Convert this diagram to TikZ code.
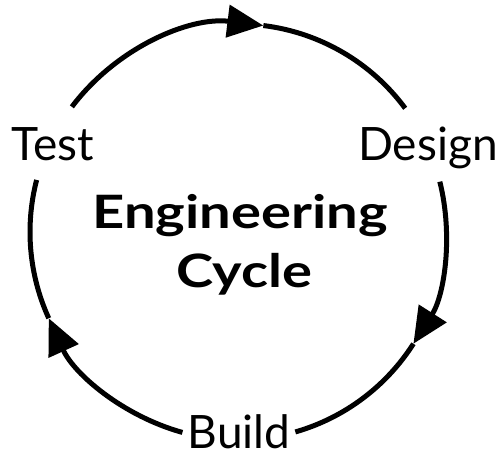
\documentclass[tikz,border=0pt]{standalone}
\usepackage{fontspec}
\setmainfont{Lato}
\usetikzlibrary{arrows.meta}
\begin{document}
\begin{tikzpicture}[x=1pt,y=1pt,
  seg/.style={line width=5pt},
  cyc/.style={line width=5pt,-{Triangle[length=36pt,width=32pt]}},
  lbl/.style={font=\fontsize{46}{46}\selectfont,inner sep=0pt,anchor=base},
  ttl/.style={font=\bfseries\fontsize{46}{46}\selectfont,inner sep=0pt,anchor=base}]
\useasboundingbox (0,0) rectangle (504,-455);
\coordinate (C) at (238,-232);
\def\R{208}
% top arc: Test -> Design
\coordinate (a1) at ([shift={(143:\R)}]C);
\coordinate (a2) at ([shift={(83:\R)}]C);
\draw[cyc] (a1) arc[start angle=143,end angle=83,radius=\R];
\draw[seg] (a2) arc[start angle=83,end angle=36.5,radius=\R];
% right arc: Design -> Build
\coordinate (b1) at ([shift={(14:\R)}]C);
\coordinate (b2) at ([shift={(-32.5:\R)}]C);
\draw[cyc] (b1) arc[start angle=14,end angle=-32.5,radius=\R];
\draw[seg] (b2) arc[start angle=-32.5,end angle=-74,radius=\R];
% left arc: Build -> Test
\coordinate (c1) at ([shift={(254.5:\R)}]C);
\coordinate (c2) at ([shift={(204.5:\R)}]C);
\draw[cyc] (c1) arc[start angle=254.5,end angle=204.5,radius=\R];
\draw[seg] (c2) arc[start angle=204.5,end angle=165.5,radius=\R];
% labels
\node[lbl] (test) at (53,-160) {Test};
\node[lbl] (design) at (428,-160) {Design};
\node[lbl] (build) at (239,-448) {Build};
\node[ttl] (eng) at (240,-228) {\scalebox{1.22}[1]{Engineering}};
\node[ttl] (cyc) at (244,-287) {\scalebox{1.22}[1]{Cycle}};
\end{tikzpicture}
\end{document}
